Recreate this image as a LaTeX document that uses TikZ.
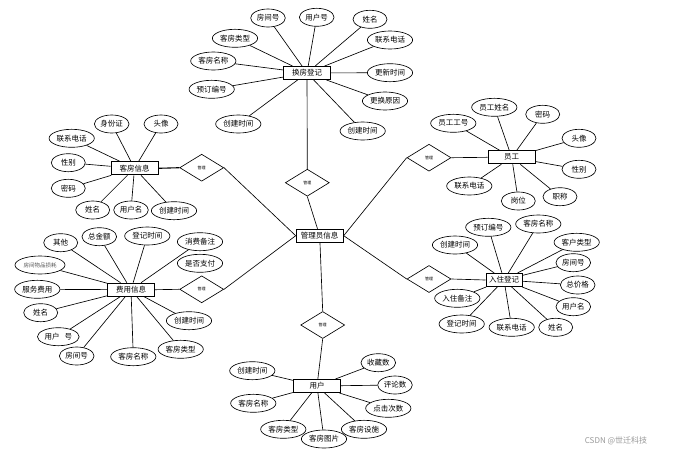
\documentclass[tikz,border=0pt]{standalone}
\usepackage{fontspec}
\setmainfont{Noto Sans CJK SC}
\usetikzlibrary{shapes.geometric}
\begin{document}
\begin{tikzpicture}[x=1pt,y=-1pt,
  attr/.style={draw, ellipse, line width=0.65pt, minimum width=34pt, minimum height=18pt, inner xsep=1pt, inner ysep=0pt, font=\fontsize{7.5}{8}\selectfont},
  ent/.style={draw, rectangle, line width=1pt, minimum width=47pt, minimum height=13pt, inner sep=0pt, font=\fontsize{7.5}{8}\selectfont},
  rel/.style={draw, diamond, line width=0.65pt, minimum width=44pt, minimum height=27pt, inner sep=0pt, font=\fontsize{4}{4}\selectfont},
  conn/.style={line width=0.65pt}]
\useasboundingbox (0,0) rectangle (673,456);
\fill[white] (0,0) rectangle (673,456);

% central
\node[ent] (gl) at (319.7,235.7) {管理员信息};

% 换房登记
\node[ent] (hf) at (307,73) {换房登记};
\node[attr] (hf1) at (268,18) {房间号};
\node[attr] (hf2) at (316.7,17.3) {用户号};
\node[attr] (hf3) at (370,19.3) {姓名};
\node[attr] (hf4) at (390,40) {联系电话};
\node[attr] (hf5) at (235,38.3) {客房类型};
\node[attr] (hf6) at (213.3,61) {客房名称};
\node[attr] (hf7) at (211.7,89.3) {预订编号};
\node[attr] (hf8) at (390,72.7) {更新时间};
\node[attr] (hf9) at (385,101) {更换原因};
\node[attr] (hf10) at (238.3,124) {创建时间};
\node[attr] (hf11) at (362.7,131) {创建时间};
\foreach \i in {1,...,11} \draw[conn] (hf) -- (hf\i);
\node[rel] (d1) at (307.3,182.7) {管理};
\draw[conn] (hf) -- (d1.north);
\draw[conn] (d1.south) -- (gl);

% 客房信息
\node[ent] (kf) at (134.5,168.3) {客房信息};
\node[attr] (kf1) at (111.7,124) {身份证};
\node[attr] (kf2) at (161,124) {头像};
\node[attr] (kf3) at (71.7,138.3) {联系电话};
\node[attr] (kf4) at (68.3,162.7) {性别};
\node[attr] (kf5) at (68.3,188.3) {密码};
\node[attr] (kf6) at (92.7,210) {姓名};
\node[attr] (kf7) at (131,210) {用户名};
\node[attr] (kf8) at (174,210.7) {创建时间};
\foreach \i in {1,...,8} \draw[conn] (kf) -- (kf\i);
\node[rel] (d3) at (201.7,167.7) {管理};
\draw[line width=1.1pt] (kf.east) -- (d3.west);
\draw[conn] (d3.east) -- (gl.west);

% 费用信息
\node[ent] (fy) at (131,289.7) {费用信息};
\node[attr] (fy1) at (60.7,242.7) {其他};
\node[attr] (fy2) at (99.3,236.7) {总金额};
\node[attr] (fy3) at (147.3,236) {登记时间};
\node[attr] (fy4) at (200,241.7) {消费备注};
\node[attr] (fy5) at (200,263.3) {是否支付};
\node[attr, minimum width=50pt, text=black!65, font=\fontsize{5.5}{6}\selectfont] (fy6) at (40,265) {房间物品损耗};
\node[attr] (fy7) at (37.3,289.3) {服务费用};
\node[attr] (fy8) at (40.7,312.7) {姓名};
\node[attr] (fy9) at (58.3,336.7) {用户\hspace{5pt}号};
\node[attr] (fy10) at (76.7,356) {房间号};
\node[attr] (fy11) at (133.3,356.7) {客房名称};
\node[attr] (fy12) at (180.7,349.3) {客房类型};
\node[attr] (fy13) at (189,320.7) {创建时间};
\foreach \i in {1,2,3,4,6,7,8,9,10,11,12,13} \draw[conn] (fy) -- (fy\i);
\node[rel] (d4) at (201.7,289.3) {管理};
\draw[conn] (fy.east) -- (d4.west);
\draw[conn] (d4.east) -- (gl.west);

% 员工
\node[ent] (yg) at (511.7,157.3) {员工};
\node[attr] (yg1) at (453.3,123.3) {员工工号};
\node[attr] (yg2) at (494.3,107.3) {员工姓名};
\node[attr] (yg3) at (542.7,114.3) {密码};
\node[attr] (yg4) at (579,138.3) {头像};
\node[attr] (yg5) at (579,169.3) {性别};
\node[attr] (yg6) at (469.3,186) {联系电话};
\node[attr] (yg7) at (518.3,201) {岗位};
\node[attr] (yg8) at (560,196.7) {职称};
\foreach \i in {1,...,8} \draw[conn] (yg) -- (yg\i);
\node[rel] (d5) at (429,157.7) {管理};
\draw[conn] (yg.west) -- (d5.east);
\draw[conn] (d5.west) -- (gl.east);

% 入住登记
\node[ent, minimum width=36pt] (rz) at (504,280) {入住登记};
\node[attr] (rz1) at (488.3,227.3) {预订编号};
\node[attr] (rz2) at (538.3,224) {客房名称};
\node[attr] (rz3) at (455,245) {创建时间};
\node[attr] (rz4) at (576.7,242.3) {客户类型};
\node[attr] (rz5) at (573.3,262.7) {房间号};
\node[attr] (rz6) at (577.7,285) {总价格};
\node[attr] (rz7) at (573.3,306.7) {用户名};
\node[attr] (rz8) at (555.7,327.3) {姓名};
\node[attr] (rz9) at (511.7,327.3) {联系电话};
\node[attr] (rz10) at (461.7,324) {登记时间};
\node[attr] (rz11) at (457.3,298.3) {入住备注};
\foreach \i in {1,...,11} \draw[conn] (rz) -- (rz\i);
\node[rel] (d6) at (429,279) {管理};
\draw[conn] (rz.west) -- (d6.east);
\draw[conn] (d6.west) -- (gl.east);

% 用户
\node[ent] (yh) at (317,386) {用户};
\node[attr] (yh1) at (252.3,370.7) {创建时间};
\node[attr] (yh2) at (253.3,403.3) {客房名称};
\node[attr] (yh3) at (283.3,429.3) {客房类型};
\node[attr] (yh4) at (324,439) {客房图片};
\node[attr] (yh5) at (364,429.3) {客房设施};
\node[attr] (yh6) at (388.3,408.3) {点击次数};
\node[attr] (yh7) at (395,385) {评论数};
\node[attr] (yh8) at (378.3,362.7) {收藏数};
\foreach \i in {1,...,8} \draw[conn] (yh) -- (yh\i);
\node[rel] (d2) at (322.7,325) {管理};
\draw[conn] (gl) -- (d2.north);
\draw[conn] (d2.south) -- (yh);

% watermark
\node[text=black!40, font=\fontsize{8}{9}\selectfont, inner sep=0pt] (wm) at (616,441) {CSDN @世迁科技};
\end{tikzpicture}
\end{document}
